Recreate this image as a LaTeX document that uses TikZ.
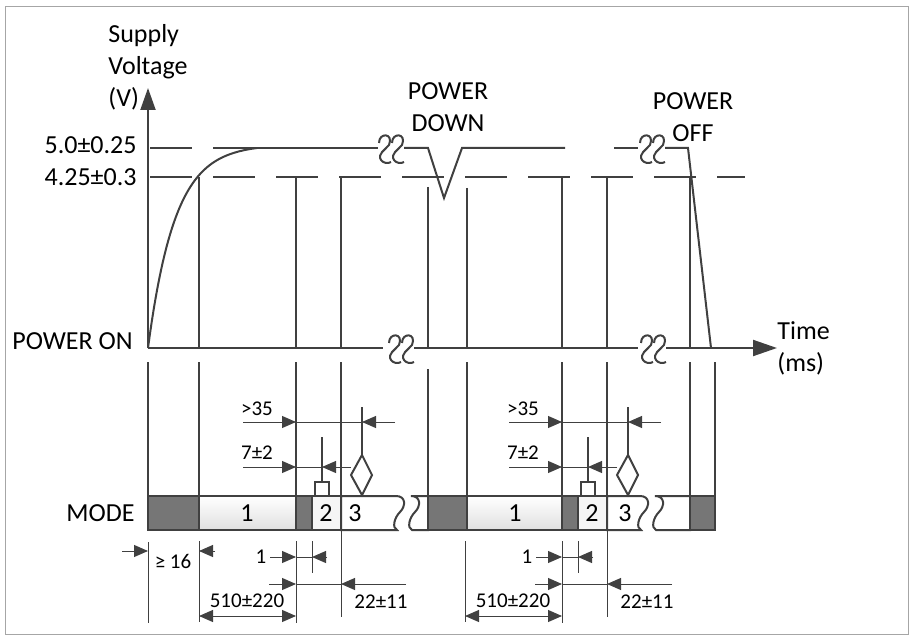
\documentclass[tikz,border=0pt]{standalone}
\usepackage{fontspec}
\setmainfont{Carlito}
\usetikzlibrary{arrows.meta}
\definecolor{inkgray}{HTML}{404040}
\definecolor{modedark}{HTML}{767676}

\begin{document}
\begin{tikzpicture}[x=0.5pt, y=-0.5pt, >={Triangle[length=7pt,width=6pt]},
    sig/.style={inkgray, line width=1pt},
    dimln/.style={inkgray, line width=0.5pt},
    lvl/.style={inkgray, line width=1pt, dash pattern=on 21pt off 10.5pt},
    modebox/.style={draw=inkgray, line width=1pt},
    bigtxt/.style={inner sep=0pt, font=\fontsize{13}{16}\selectfont},
    smalltxt/.style={inner sep=0pt, font=\fontsize{10.5}{12}\selectfont},
    wave/.pic={\draw[sig] (-7,-5) .. controls (-7,-16) and (8,-15) .. (3,-3)
        .. controls (-1,2) and (-9,6) .. (-5,12) .. controls (-3,15) and (2,16) .. (5,14);}]
    \useasboundingbox (0,0) rectangle (914,641);
    \draw[black!35, line width=0.5pt] (5,7) rectangle (908,634);

    % Achsen
    \draw[sig, -{Triangle[length=11pt,width=7.5pt]}] (148,348) -- (148,88);
    \draw[sig] (148,348) -- (383,348);
    \pic at (396,348) {wave};
    \pic at (409,348) {wave};
    \draw[sig] (414,348) -- (638,348);
    \pic at (648,348) {wave};
    \pic at (661,348) {wave};
    \draw[sig, -{Triangle[length=12pt,width=8pt]}] (666,348) -- (777,348);
    \node[bigtxt, anchor=west, align=left] (ylbl) at (108,67) {Supply\\Voltage\\(V)};
    \node[bigtxt, anchor=west, align=left] (tlbl) at (777,348) {Time\\(ms)};

    % Pegel
    \node[bigtxt, anchor=east] (vhigh) at (137,145) {5.0±0.25};
    \node[bigtxt, anchor=east] (vlow) at (137,177) {4.25±0.3};
    \node[bigtxt, anchor=east] (pon) at (133,341) {POWER ON};
    \draw[lvl] (150,177) -- (745,177);
    \draw[lvl] (150,148) -- (257,148);

    % Versorgungsspannung
    \draw[sig] plot[domain=0:109, samples=60] ({148+\x}, {348-200*(1-exp(-\x/27))/0.98235});
    \draw[sig] (257,148) -- (378,148);
    \pic at (386,148) {wave};
    \pic at (399,148) {wave};
    \draw[sig] (404,148) -- (428,148) -- (444,198) -- (462,148) -- (565,148);
    \draw[sig] (614,148) -- (638,148);
    \pic at (647,148) {wave};
    \pic at (660,148) {wave};
    \draw[sig] (665,148) -- (688,148) -- (711,348);
    \node[bigtxt, align=center] (pdown) at (448,107) {POWER\\DOWN};
    \node[bigtxt, align=center] (poff) at (693,117) {POWER\\OFF};

    % senkrechte Linien
    \foreach \x/\y in {199/177, 296/177, 341/177, 428/187, 467/188, 562/177, 607/177, 690/177}
        \draw[sig] (\x,\y) -- (\x,348);
    \foreach \x in {148, 199, 296, 341, 467, 562, 607, 690, 715}
        \draw[sig] (\x,362) -- (\x,496);
    \draw[sig] (428,369) -- (428,496);

    % MODE
    \node[bigtxt, anchor=east] (modelbl) at (135,513) {MODE};
    \draw[modebox, fill=modedark] (148,496) rectangle (199,530);
    \draw[modebox, top color=white, bottom color=black!12] (199,496) rectangle (296,530);
    \draw[modebox, fill=modedark] (296,496) rectangle (312,530);
    \draw[modebox, fill=black!4] (312,496) rectangle (341,530);
    \draw[modebox, fill=white] (341,496) -- (396,496) .. controls (406,496) and (406,506) .. (400,512)
        .. controls (394,518) and (392,528) .. (397,530) -- (341,530) -- cycle;
    \draw[modebox, fill=white] (411,496) .. controls (421,496) and (421,506) .. (415,512)
        .. controls (409,518) and (407,528) .. (412,530) -- (428,530) -- (428,496) -- cycle;
    \draw[modebox, fill=modedark] (428,496) rectangle (467,530);
    \draw[modebox, top color=white, bottom color=black!12] (467,496) rectangle (562,530);
    \draw[modebox, fill=modedark] (562,496) rectangle (578,530);
    \draw[modebox, fill=black!4] (578,496) rectangle (607,530);
    \draw[modebox, fill=white] (607,496) -- (640,496) .. controls (650,496) and (650,506) .. (644,512)
        .. controls (638,518) and (636,528) .. (641,530) -- (607,530) -- cycle;
    \draw[modebox, fill=white] (655,496) .. controls (665,496) and (665,506) .. (659,512)
        .. controls (653,518) and (651,528) .. (656,530) -- (690,530) -- (690,496) -- cycle;
    \draw[modebox, fill=modedark] (690,496) rectangle (715,530);
    \draw[dimln] (341,496) -- (341,530);
    \draw[dimln] (607,496) -- (607,530);
    \node[bigtxt] (onea) at (247,513) {1};
    \node[bigtxt] (twoa) at (326,513) {2};
    \node[bigtxt] (threea) at (355,513) {3};
    \node[bigtxt] (oneb) at (515,513) {1};
    \node[bigtxt] (twob) at (592,513) {2};
    \node[bigtxt] (threeb) at (625,513) {3};

    % Zeitangaben, zweimal
    \foreach \d in {0,266} {
        \draw[sig, fill=white] (315+\d,482) rectangle (329+\d,496);
        \draw[sig] (322+\d,482) -- (322+\d,437);
        \draw[sig, fill=white] (362+\d,455) -- (372+\d,475) -- (362+\d,495) -- (351+\d,475) -- cycle;
        \draw[sig] (362+\d,455) -- (362+\d,407);
        \draw[dimln, ->] (243+\d,422) -- (296+\d,422);
        \draw[dimln] (296+\d,422) -- (362+\d,422);
        \draw[dimln, ->] (395+\d,422) -- (362+\d,422);
        \draw[dimln, ->] (243+\d,467) -- (296+\d,467);
        \draw[dimln] (296+\d,467) -- (322+\d,467);
        \draw[dimln, ->] (351+\d,467) -- (322+\d,467);
        \node[smalltxt] (gt\d) at (257+\d,409) {>35};
        \node[smalltxt] (sev\d) at (257+\d,453) {7±2};
        % unten
        \draw[dimln] (199+\d,541) -- (199+\d,622);
        \draw[dimln] (296+\d,541) -- (296+\d,623);
        \draw[dimln] (312+\d,541) -- (312+\d,573);
        \draw[dimln] (341+\d,530) -- (341+\d,617);
        \draw[dimln, <->] (199+\d,616) -- (296+\d,616);
        \draw[dimln, ->] (270+\d,557) -- (296+\d,557);
        \draw[dimln] (296+\d,557) -- (312+\d,557);
        \draw[dimln, ->] (327+\d,557) -- (312+\d,557);
        \draw[dimln, ->] (269+\d,584) -- (296+\d,584);
        \draw[dimln] (296+\d,584) -- (341+\d,584);
        \draw[dimln, ->] (406+\d,584) -- (341+\d,584);
        \node[smalltxt] (one\d) at (261+\d,557) {1};
        \node[smalltxt] (tol\d) at (247+\d,601) {510±220};
        \node[smalltxt] (tt\d) at (381+\d,602) {22±11};
    }
    \draw[dimln] (148,542) -- (148,623);
    \draw[dimln, ->] (122,551) -- (148,551);
    \draw[dimln, ->] (215,551) -- (199,551);
    \node[smalltxt] (ge) at (173,561) {≥ 16};
\end{tikzpicture}
\end{document}
